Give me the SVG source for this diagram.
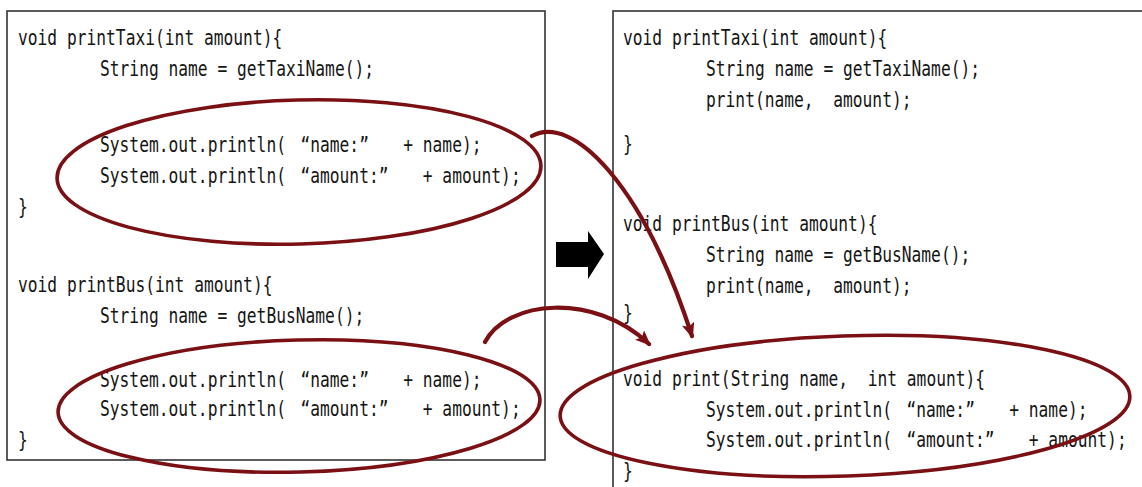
<svg xmlns="http://www.w3.org/2000/svg" width="1142" height="487" viewBox="0 0 1142 487">
<style>
.code{font-family:"DejaVu Sans Mono","Liberation Mono",monospace;font-size:21px;fill:#151515;white-space:pre}
.box{fill:#fff;stroke:#333;stroke-width:1.6}
.ring{fill:none;stroke:#7a1014;stroke-width:3.6}
.conn{fill:none;stroke:#7a1014;stroke-width:4.2;stroke-linecap:round}
</style>
<defs>
<marker id="ah" markerUnits="userSpaceOnUse" viewBox="0 0 12 10" markerWidth="16" markerHeight="13" refX="10" refY="5" orient="auto">
<path d="M0,0 L12,5 L0,10 L2.5,5 z" fill="#7a1014"/>
</marker>
</defs>
<rect width="1142" height="487" fill="#fff"/>

<g id="left-box">
<rect class="box" x="7" y="11" width="538" height="449"/>
<text class="code" transform="translate(18,45) scale(0.775,1)">void printTaxi(int amount){</text>
<text class="code" transform="translate(100,76) scale(0.775,1)">String name = getTaxiName();</text>
<text class="code" transform="translate(100,152) scale(0.775,1)">System.out.println( <tspan dx="6">“name:”</tspan><tspan dx="19">  + name);</tspan></text>
<text class="code" transform="translate(100,183) scale(0.775,1)">System.out.println( <tspan dx="6">“amount:”</tspan><tspan dx="19">  + amount);</tspan></text>
<text class="code" transform="translate(18,214) scale(0.775,1)">}</text>
<text class="code" transform="translate(18,292) scale(0.775,1)">void printBus(int amount){</text>
<text class="code" transform="translate(100,323) scale(0.775,1)">String name = getBusName();</text>
<text class="code" transform="translate(100,387) scale(0.775,1)">System.out.println( <tspan dx="6">“name:”</tspan><tspan dx="19">  + name);</tspan></text>
<text class="code" transform="translate(100,416) scale(0.775,1)">System.out.println( <tspan dx="6">“amount:”</tspan><tspan dx="19">  + amount);</tspan></text>
<text class="code" transform="translate(18,447) scale(0.775,1)">}</text>
</g>

<g id="right-box">
<rect class="box" x="613" y="11" width="600" height="500"/>
<text class="code" transform="translate(623,45) scale(0.775,1)">void printTaxi(int amount){</text>
<text class="code" transform="translate(706,76) scale(0.775,1)">String name = getTaxiName();</text>
<text class="code" transform="translate(706,107) scale(0.775,1)">print(name,<tspan dx="12.6"> amount);</tspan></text>
<text class="code" transform="translate(623,151) scale(0.775,1)">}</text>
<text class="code" transform="translate(623,231) scale(0.775,1)">void printBus(int amount){</text>
<text class="code" transform="translate(706,262) scale(0.775,1)">String name = getBusName();</text>
<text class="code" transform="translate(706,293) scale(0.775,1)">print(name,<tspan dx="12.6"> amount);</tspan></text>
<text class="code" transform="translate(623,320) scale(0.775,1)">}</text>
<text class="code" transform="translate(623,386) scale(0.775,1)">void print(String name,<tspan dx="12.6"> int amount){</tspan></text>
<text class="code" transform="translate(706,417) scale(0.775,1)">System.out.println( <tspan dx="6">“name:”</tspan><tspan dx="19">  + name);</tspan></text>
<text class="code" transform="translate(706,447) scale(0.775,1)">System.out.println( <tspan dx="6">“amount:”</tspan><tspan dx="19">  + amount);</tspan></text>
<text class="code" transform="translate(623,478) scale(0.775,1)">}</text>
</g>

<g id="highlights">
<ellipse class="ring" cx="299" cy="172" rx="242" ry="72" transform="rotate(-1.5 299 172)"/>
<ellipse class="ring" cx="299" cy="406" rx="241" ry="66" transform="rotate(-1.5 299 406)"/>
<ellipse class="ring" cx="845" cy="406" rx="285" ry="70" transform="rotate(-2 845 406)"/>
</g>

<g id="transform-arrow">
<polygon points="556,242 588,242 588,231 604,254 588,279 588,267 556,267" fill="#000"/>
</g>

<g id="connectors">
<path class="conn" d="M532,136 C572,114 642,182 692,336" marker-end="url(#ah)"/>
<path class="conn" d="M485,342 C507,300 594,292 649,344" marker-end="url(#ah)"/>
</g>
</svg>
